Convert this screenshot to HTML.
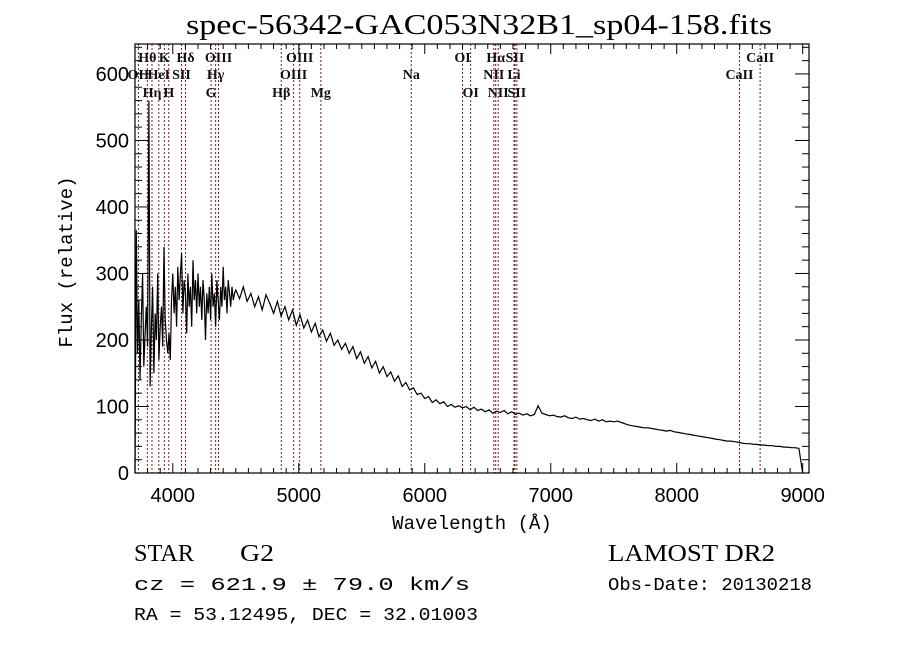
<!DOCTYPE html>
<html><head><meta charset="utf-8"><style>
body{margin:0;background:#fff;}
svg{display:block;}
</style></head><body>
<svg id="chart" width="900" height="649" viewBox="0 0 900 649" xmlns="http://www.w3.org/2000/svg">
<rect width="900" height="649" fill="#fff"/>
<text x="186" y="34" textLength="586" lengthAdjust="spacingAndGlyphs" font-family="Liberation Serif, serif" font-size="28">spec-56342-GAC053N32B1_sp04-158.fits</text>
<g id="lines"></g>
<g id="axes"></g>
<path id="spec" fill="none" stroke="#000" stroke-width="1.2"/>
<text x="472" y="529" text-anchor="middle" font-family="Liberation Mono, monospace" font-size="19">Wavelength (Å)</text>
<text transform="translate(72,262) rotate(-90)" text-anchor="middle" font-family="Liberation Mono, monospace" font-size="19">Flux (relative)</text>
<text x="134" y="561" textLength="60" lengthAdjust="spacingAndGlyphs" font-family="Liberation Serif, serif" font-size="24">STAR</text>
<text x="240" y="561" textLength="34" lengthAdjust="spacingAndGlyphs" font-family="Liberation Serif, serif" font-size="24">G2</text>
<text x="134" y="590" textLength="336" lengthAdjust="spacingAndGlyphs" font-family="Liberation Mono, monospace" font-size="18">cz = 621.9 ± 79.0 km/s</text>
<text x="134" y="620" textLength="344" lengthAdjust="spacingAndGlyphs" font-family="Liberation Mono, monospace" font-size="18">RA =  53.12495, DEC =  32.01003</text>
<text x="608" y="561" textLength="167" lengthAdjust="spacingAndGlyphs" font-family="Liberation Serif, serif" font-size="24">LAMOST DR2</text>
<text x="608" y="590" textLength="204" lengthAdjust="spacingAndGlyphs" font-family="Liberation Mono, monospace" font-size="18">Obs-Date: 20130218</text>
</svg>
<script>
const blueStart = 3700, blueStep = 10;
const fluxBlue = [
0,365,180,260,140,230,300,160,210,250,
190,560,130,220,280,150,240,200,300,170,
220,250,190,340,230,200,180,210,170,260,
300,240,280,220,310,260,300,330,240,290,
270,210,300,250,280,220,320,260,290,240,
300,250,280,230,290,260,200,270,240,280,
230,300,250,270,220,290,260,230,280,250,
310,260,280,240,290,270,250,280,260,270];
const redStart = 4500, redStep = 30;
const fluxRed = [
275,262,280,258,270,250,265,245,268,255,
240,258,236,250,230,245,222,238,218,230,
212,225,205,215,198,210,192,200,186,195,
180,190,172,182,165,175,158,168,150,160,
145,152,138,146,130,136,125,128,118,120,
112,115,106,110,104,107,100,103,99,101,
98,100,95,99,94,96,92,95,90,93,
91,94,89,92,88,90,87,89,86,88,
101,90,88,86,87,85,84,86,83,82,
84,81,82,80,79,81,78,80,77,78,
77,78,76,74,72,71,70,69,68,68,
67,66,65,64,63,64,62,61,60,59,
58,57,56,55,54,53,52,51,50,49,
48,48,47,46,45,44,44,43,43,42,
42,41,41,40,40,39,39,38,38,37,
0];
const lineWaves = [3727,3798,3835,3889,3933,3968,4069,4101,4304,4340,4363,4861,4959,5007,5175,5893,6300,6364,6548,6563,6583,6708,6716,6731,8498,8662];
const lineNames = ["OII","Hθ","Hη","HeI","K","H","SII","Hδ","G","Hγ","OIII","Hβ","OIII","OIII","Mg","Na","OI","OI","NII","Hα","NII","Li","SII","SII","CaII","CaII"];
const lineRows = [1,0,2,1,0,2,1,0,2,1,0,2,1,0,2,1,0,2,1,0,2,1,0,2,1,0];
const xTicks = [4000,5000,6000,7000,8000,9000];
const yTicks = [0,100,200,300,400,500,600];

const X0=135, X1=809, Y0=473, Y1=44, WMIN=3700, WMAX=9050, FMIN=0, FMAX=645;
const xs = w => X0 + (w-WMIN)/(WMAX-WMIN)*(X1-X0);
const ys = f => Y0 - (f-FMIN)/(FMAX-FMIN)*(Y0-Y1);
const NS="http://www.w3.org/2000/svg";
function mk(tag, parent, attrs){const e=document.createElementNS(NS,tag);for(const k in attrs)e.setAttribute(k,attrs[k]);parent.appendChild(e);return e;}

const lg=document.getElementById('lines');
const rowY=[62,79,97];
lineWaves.forEach((w,i)=>{
  const x=xs(w);
  const l=mk('line',lg,{x1:x,x2:x,y1:Y1,y2:Y0,stroke:'#7a1f1f','stroke-width':1,'stroke-dasharray':'2,2'});
  
  
  const t=mk('text',lg,{x:x,y:rowY[lineRows[i]],'text-anchor':'middle','font-family':'Liberation Serif, serif','font-size':14,'font-weight':'bold',fill:'#111'});
  t.textContent=lineNames[i];
  
  
});

const ag=document.getElementById('axes');
const frame=mk('rect',ag,{x:X0,y:Y1,width:X1-X0,height:Y0-Y1,fill:'none',stroke:'#000','stroke-width':1.2});


for(let w=3800; w<=9000; w+=100){
  const x=xs(w); const major = w%1000===0; const len = major?10:5;
  mk('line',ag,{x1:x,x2:x,y1:Y0,y2:Y0-len,stroke:'#000'});
  mk('line',ag,{x1:x,x2:x,y1:Y1,y2:Y1+len,stroke:'#000'});
}
xTicks.forEach(w=>{
  const t=mk('text',ag,{x:xs(w),y:Y0+29,'text-anchor':'middle','font-family':'Liberation Sans, sans-serif','font-size':20});
  t.textContent=w;
  
  
});
for(let f=0; f<=640; f+=20){
  const y=ys(f); const major=f%100===0; const len=major?14:7;
  mk('line',ag,{x1:X0,x2:X0+len,y1:y,y2:y,stroke:'#000'});
  mk('line',ag,{x1:X1,x2:X1-len,y1:y,y2:y,stroke:'#000'});
}
yTicks.forEach(f=>{
  const t=mk('text',ag,{x:X0-6,y:ys(f)+7,'text-anchor':'end','font-family':'Liberation Sans, sans-serif','font-size':20});
  t.textContent=f;
  
  
});

let d='';
fluxBlue.forEach((f,i)=>{const w=blueStart+i*blueStep; d+=(i?'L':'M')+xs(w).toFixed(1)+' '+ys(f).toFixed(1);});
fluxRed.forEach((f,i)=>{const w=redStart+i*redStep; d+='L'+xs(w).toFixed(1)+' '+ys(f).toFixed(1);});
document.getElementById('spec').setAttribute('d',d);
</script>
</body></html>
